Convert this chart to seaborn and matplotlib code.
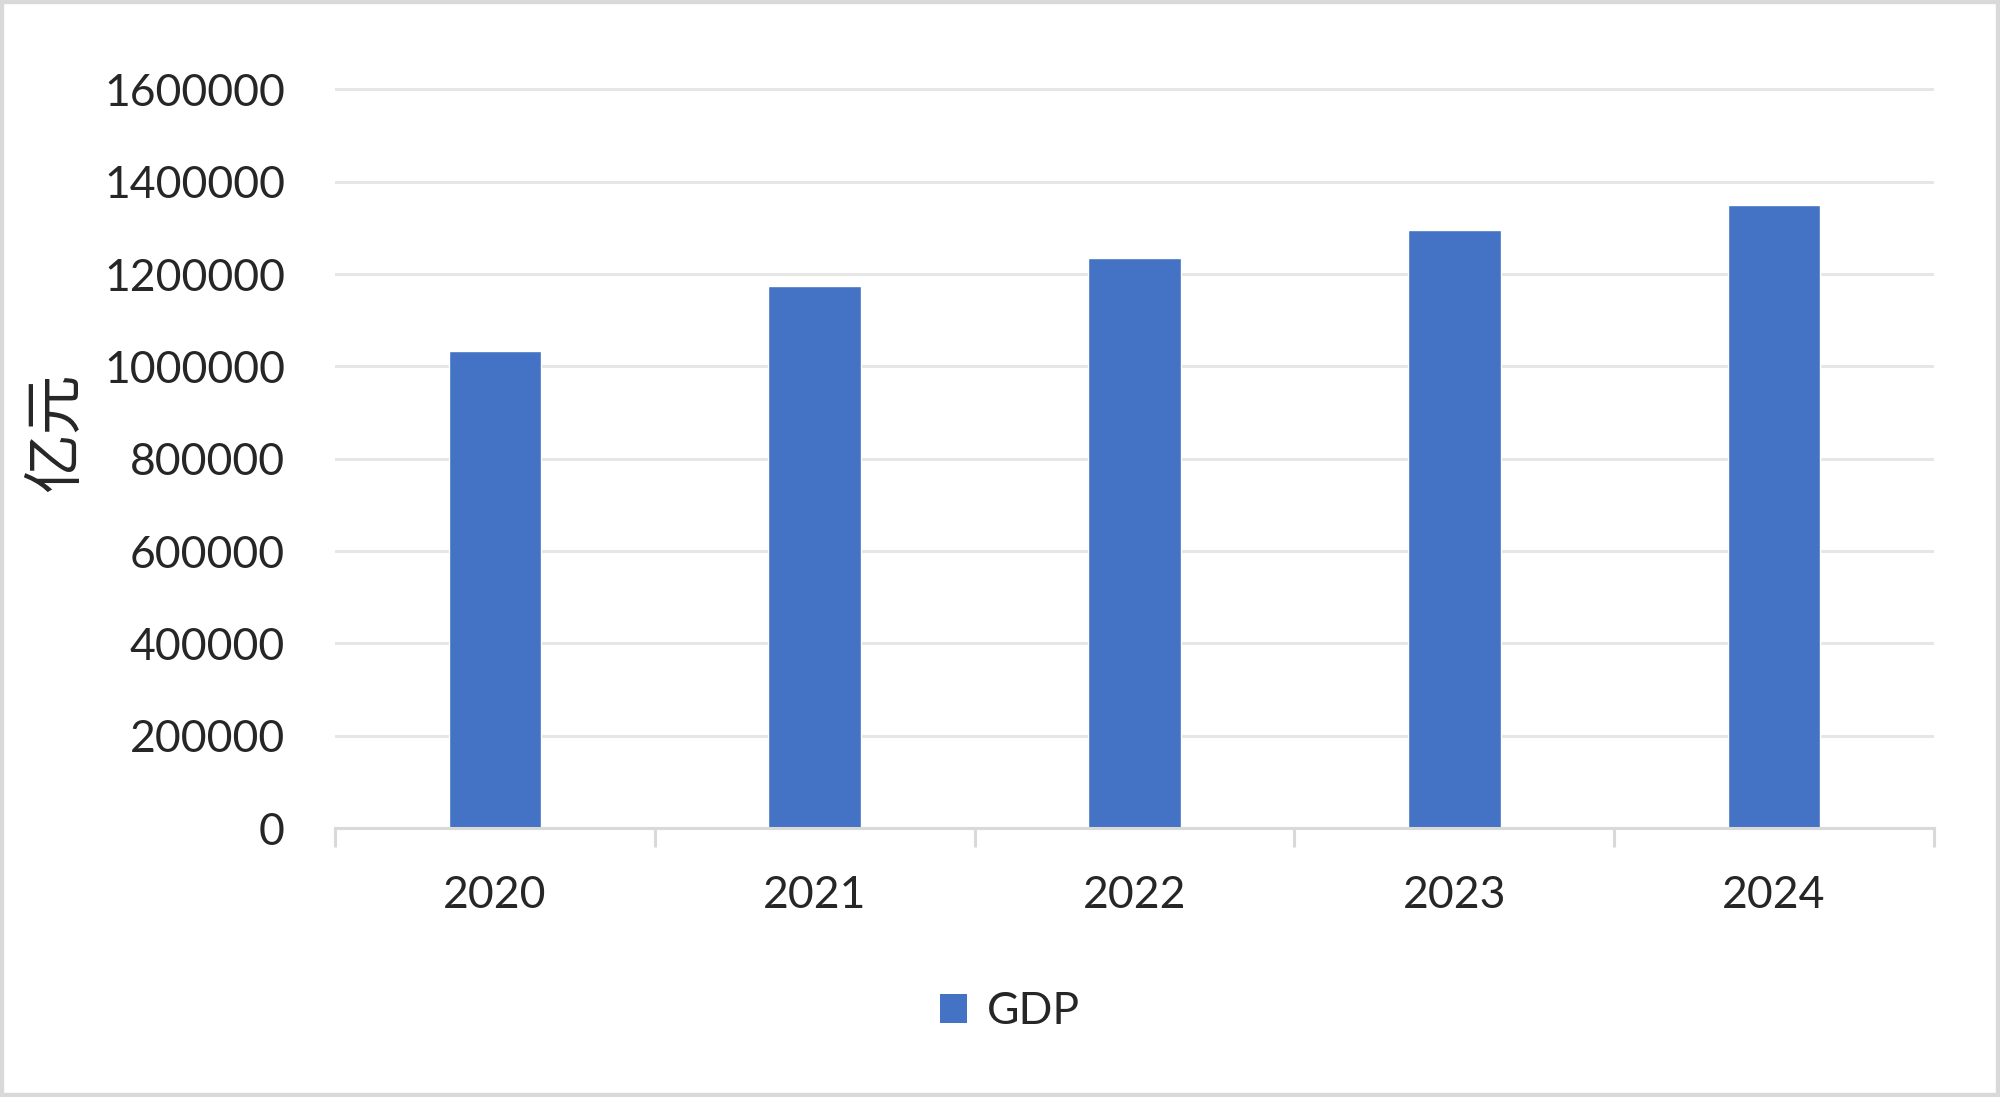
import matplotlib
matplotlib.use("Agg")
import matplotlib.pyplot as plt
from matplotlib.patches import Patch, Rectangle
import seaborn as sns

# GDP, 亿元
years = ["2020", "2021", "2022", "2023", "2024"]
gdp = [1034000, 1174000, 1234000, 1295000, 1350000]
y_ticks = [0, 200000, 400000, 600000, 800000, 1000000, 1200000, 1400000, 1600000]

bar_color = "#4472C4"
grid_color = "#e6e6e6"
axis_color = "#d9d9d9"

sns.set_style("white")
plt.rcParams["font.family"] = ["Lato", "Noto Sans CJK SC", "DejaVu Sans"]
plt.rcParams["text.color"] = "#262626"

fig = plt.figure(figsize=(20, 10.97), dpi=100)
ax = fig.add_axes([0.1675, 0.2452, 0.7995, 0.6746])

sns.barplot(x=years, y=gdp, color=bar_color, saturation=1, width=0.29, ax=ax, zorder=3)

ax.set_xlim(-0.5, len(years) - 0.5)
ax.set_ylim(0, 1603000)
ax.set_yticks(y_ticks)
ax.set_yticklabels([str(v) for v in y_ticks])
ax.yaxis.grid(True, color=grid_color, lw=2.2, zorder=0)
ax.xaxis.grid(False)

for s in ["top", "right", "left"]:
    ax.spines[s].set_visible(False)
ax.spines["bottom"].set_color(axis_color)
ax.spines["bottom"].set_linewidth(2.2)
ax.spines["bottom"].set_zorder(4)

# category boundary ticks like Excel
ax.set_xticks([i - 0.5 for i in range(len(years) + 1)], minor=True)
ax.tick_params(axis="x", which="minor", length=14, width=2.2, color=axis_color, bottom=True)
ax.tick_params(axis="x", which="major", length=0, pad=34, labelsize=32, labelcolor="#262626")
ax.tick_params(axis="y", length=0, pad=36, labelsize=32, labelcolor="#262626")

ax.set_xlabel("")
ax.set_ylabel("亿元", fontsize=43, family=["Noto Sans CJK SC"], color="#262626")
ax.yaxis.set_label_coords(-0.155, 0.535)

handles = [Patch(facecolor=bar_color, edgecolor="none", label="GDP")]
fig.legend(handles=handles, loc="center", bbox_to_anchor=(0.505, 0.078), frameon=False,
           fontsize=32, handlelength=0.62, handleheight=0.62, handletextpad=0.45)

fig.patches.append(Rectangle((0, 0), 1, 1, transform=fig.transFigure, fill=False,
                             edgecolor=axis_color, lw=6))

fig.savefig("out.png", dpi=100)
